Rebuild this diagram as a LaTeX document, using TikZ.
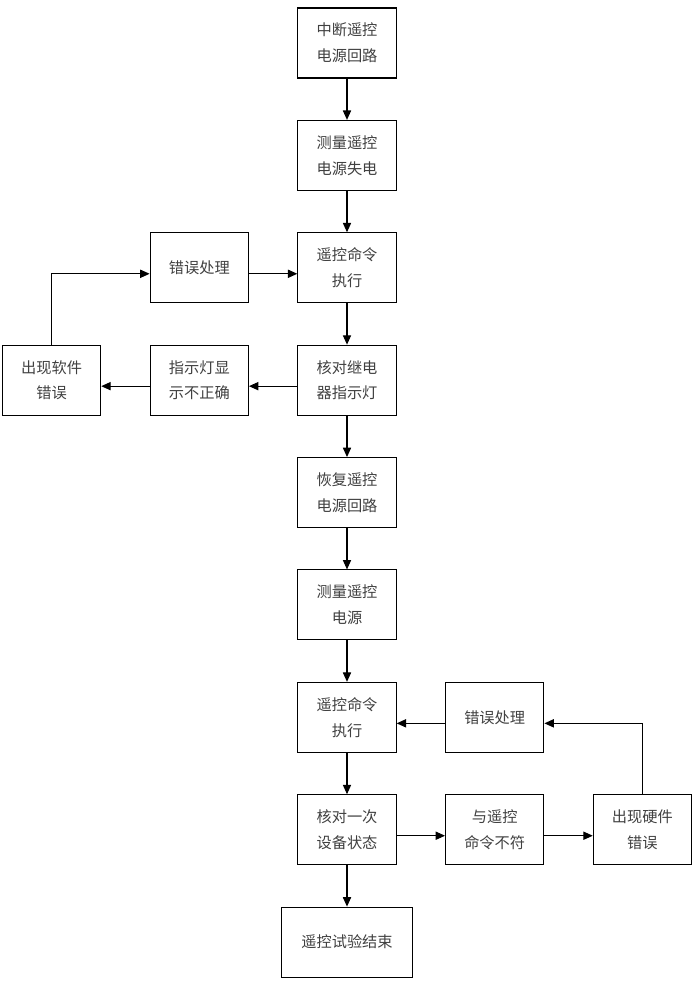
\documentclass[tikz,border=0pt]{standalone}
\usepackage{fontspec}
\newfontfamily\cjk{Noto Sans CJK SC}
\usetikzlibrary{arrows.meta,positioning}

\begin{document}
\begin{tikzpicture}[
  node distance=1.24cm and 1.45cm,
  box/.style={draw,line width=0.9pt,align=center,inner sep=0pt,
              font=\cjk\fontsize{13}{22}\selectfont,text=black!75,
              minimum width=2.95cm,minimum height=2.1cm},
  arr/.style={-{Triangle[length=8pt,width=7pt]},line width=0.9pt}
]
\useasboundingbox (0,0) rectangle (20.88,-29.46);
% main column
\node[box] (cut) at (10.41,-1.29) {中断遥控\\电源回路};
\node[box,below=of cut]     (lose)    {测量遥控\\电源失电};
\node[box,below=of lose]    (exec1)   {遥控命令\\执行};
\node[box,below=of exec1]   (check1)  {核对继电\\器指示灯};
\node[box,below=of check1]  (restore) {恢复遥控\\电源回路};
\node[box,below=of restore] (meas)    {测量遥控\\电源};
\node[box,below=of meas]    (exec2)   {遥控命令\\执行};
\node[box,below=of exec2]   (check2)  {核对一次\\设备状态};
\node[box,below=of check2,minimum width=3.93cm] (finish) {遥控试验结束};
% software branch
\node[box,left=of exec1]  (err1) {错误处理};
\node[box,left=of check1] (lamp) {指示灯显\\示不正确};
\node[box,left=of lamp]   (soft) {出现软件\\错误};
% hardware branch
\node[box,right=of exec2]    (err2)     {错误处理};
\node[box,right=of check2]   (mismatch) {与遥控\\命令不符};
\node[box,right=of mismatch] (hard)     {出现硬件\\错误};

\draw[arr] (cut)     -- (lose);
\draw[arr] (lose)    -- (exec1);
\draw[arr] (exec1)   -- (check1);
\draw[arr] (check1)  -- (restore);
\draw[arr] (restore) -- (meas);
\draw[arr] (meas)    -- (exec2);
\draw[arr] (exec2)   -- (check2);
\draw[arr] (check2)  -- (finish);

\draw[arr] ([yshift=-0.18cm]check1.west) -- ([yshift=-0.18cm]lamp.east);
\draw[arr] ([yshift=-0.18cm]lamp.west)   -- ([yshift=-0.18cm]soft.east);
\draw[arr] (soft.north) |- ([yshift=-0.18cm]err1.west);
\draw[arr] ([yshift=-0.18cm]err1.east)   -- ([yshift=-0.18cm]exec1.west);

\draw[arr] ([yshift=-0.18cm]check2.east)   -- ([yshift=-0.18cm]mismatch.west);
\draw[arr] ([yshift=-0.18cm]mismatch.east) -- ([yshift=-0.18cm]hard.west);
\draw[arr] (hard.north) |- ([yshift=-0.18cm]err2.east);
\draw[arr] ([yshift=-0.18cm]err2.west)     -- ([yshift=-0.18cm]exec2.east);
\end{tikzpicture}
\end{document}
